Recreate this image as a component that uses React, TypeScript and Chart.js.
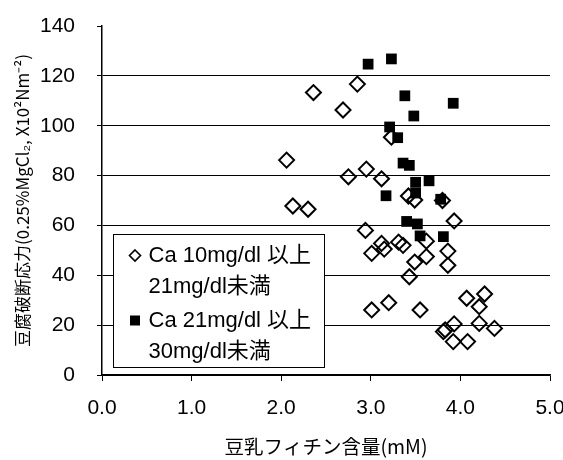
import React, { useEffect, useRef } from "react";
import { Chart, registerables } from "chart.js";

Chart.register(...registerables);

// ---- data ----
const lowCaX = [2.06, 2.13, 2.30, 2.36, 2.69, 2.75, 2.85, 2.94, 2.95, 3.01, 3.01, 3.12, 3.12, 3.15, 3.20, 3.23, 3.31, 3.36, 3.42, 3.43, 3.49, 3.49, 3.55, 3.62, 3.62, 3.80, 3.81, 3.83, 3.86, 3.86, 3.93, 3.93, 3.92, 4.08, 4.07, 4.21, 4.21, 4.27, 4.38];
const lowCaY = [86.2, 67.8, 66.5, 113.3, 106.3, 79.5, 116.7, 58.0, 82.6, 48.8, 26.1, 78.7, 52.8, 50.5, 29.0, 95.4, 53.3, 52.0, 71.8, 39.4, 70.2, 45.3, 26.1, 53.7, 47.5, 70.0, 17.4, 18.1, 49.7, 44.0, 61.8, 20.5, 13.4, 13.4, 30.8, 27.4, 20.7, 32.5, 18.7];
const highCaX = [2.97, 3.23, 3.38, 3.92, 3.48, 3.21, 3.30, 3.36, 3.43, 3.17, 3.50, 3.50, 3.65, 3.78, 3.40, 3.52, 3.55, 3.81];
const highCaY = [124.7, 126.8, 112.0, 109.0, 103.9, 99.5, 95.2, 85.0, 84.1, 71.9, 77.3, 73.0, 77.9, 70.5, 61.6, 60.6, 55.8, 55.5];

const xMin = 0;
const xMax = 5;
const xStep = 1;
const yMin = 0;
const yMax = 140;
const yStep = 20;

const legendLow = ["Ca 10mg/dl 以上", "21mg/dl未満"];
const legendHigh = ["Ca 21mg/dl 以上", "30mg/dl未満"];
const xTitle = "豆乳フィチン含量(mM)";
const yTitle = "豆腐破断応力(0.25%MgCl₂, X10²Nm⁻²)";

const FONT = "'Liberation Sans', Arial, 'Noto Sans CJK JP', sans-serif";
const CJK_FONT = "'Noto Sans CJK JP', 'Liberation Sans', sans-serif";

const toPoints = (xs: number[], ys: number[]) => xs.map((x, i) => ({ x, y: ys[i] }));

const boxLegend = {
  id: "boxLegend",
  afterDraw(chart: any) {
    const { ctx, chartArea } = chart;
    const left = chartArea.left + 11.5;
    const top = chartArea.top + 208.5;
    const w = 211;
    const h = 133;
    ctx.save();
    ctx.fillStyle = "#fff";
    ctx.fillRect(left, top, w, h);
    ctx.strokeStyle = "#000";
    ctx.lineWidth = 1;
    ctx.strokeRect(left, top, w, h);

    const textX = left + 35;
    const lineYs = [top + 21, top + 52, top + 86, top + 117];
    ctx.fillStyle = "#000";
    ctx.textBaseline = "middle";
    ctx.textAlign = "left";
    ctx.font = `22px ${FONT}`;
    const lines = [...legendLow, ...legendHigh];
    lines.forEach((t, i) => ctx.fillText(t, textX, lineYs[i]));

    // diamond symbol
    const sx = left + 21.5;
    ctx.beginPath();
    ctx.moveTo(sx, lineYs[0] - 5.5);
    ctx.lineTo(sx + 5.5, lineYs[0]);
    ctx.lineTo(sx, lineYs[0] + 5.5);
    ctx.lineTo(sx - 5.5, lineYs[0]);
    ctx.closePath();
    ctx.lineWidth = 1.6;
    ctx.stroke();
    // square symbol
    ctx.fillRect(sx - 5, lineYs[2] - 5, 10, 10);
    ctx.restore();
  },
};

export default function App() {
  const canvasRef = useRef<HTMLCanvasElement | null>(null);

  useEffect(() => {
    const canvas = canvasRef.current;
    if (!canvas) return;
    const chart = new Chart(canvas, {
      type: "scatter",
      data: {
        datasets: [
          {
            label: legendHigh.join(" "),
            data: toPoints(highCaX, highCaY),
            pointStyle: "rect",
            radius: 7.6,
            backgroundColor: "#000",
            borderColor: "#000",
            borderWidth: 0,
            order: 0,
          },
          {
            label: legendLow.join(" "),
            data: toPoints(lowCaX, lowCaY),
            pointStyle: "rectRot",
            radius: 7.5,
            backgroundColor: "rgba(0,0,0,0)",
            borderColor: "#000",
            borderWidth: 2,
            order: 1,
          },
        ],
      },
      options: {
        responsive: false,
        animation: false,
        layout: { padding: { top: 26, right: 13, left: 0, bottom: 0 } },
        plugins: {
          legend: { display: false },
          tooltip: { enabled: false },
        },
        scales: {
          x: {
            type: "linear",
            min: xMin,
            max: xMax,
            afterFit: (scale: any) => {
              scale.height = 85;
              scale.paddingLeft = 0;
              scale.paddingRight = 0;
            },
            ticks: {
              stepSize: xStep,
              color: "#000",
              padding: 15,
              font: { size: 21, family: FONT },
              callback: (v: any) => Number(v).toFixed(1),
            },
            grid: {
              drawOnChartArea: false,
              drawTicks: true,
              tickLength: 6,
              color: "#000",
              tickColor: "#000",
            },
            border: { color: "#000", width: 1.5 },
            title: {
              display: true,
              text: xTitle,
              color: "#000",
              font: { size: 19.5, family: CJK_FONT },
              padding: { top: 0, bottom: 2 },
            },
          },
          y: {
            type: "linear",
            min: yMin,
            max: yMax,
            afterFit: (scale: any) => {
              scale.width = 102;
              scale.paddingTop = 0;
              scale.paddingBottom = 0;
            },
            ticks: {
              stepSize: yStep,
              color: "#000",
              padding: 22,
              font: { size: 21, family: FONT },
            },
            grid: {
              drawTicks: true,
              tickLength: 5,
              color: (c: any) => (c.tick && c.tick.value === yMax ? "rgba(0,0,0,0)" : "#000"),
              tickColor: "#000",
              lineWidth: 1,
            },
            border: { color: "#000", width: 1.5 },
            title: {
              display: true,
              text: yTitle,
              color: "#000",
              font: { size: 17, family: CJK_FONT },
              padding: { top: 12, bottom: 0 },
            },
          },
        },
      },
      plugins: [boxLegend],
    });
    return () => chart.destroy();
  }, []);

  return (
    <div style={{ position: "absolute", left: 0, top: 0, width: 563, height: 460, background: "#fff" }}>
      <canvas ref={canvasRef} width={563} height={460} style={{ display: "block" }} />
    </div>
  );
}
